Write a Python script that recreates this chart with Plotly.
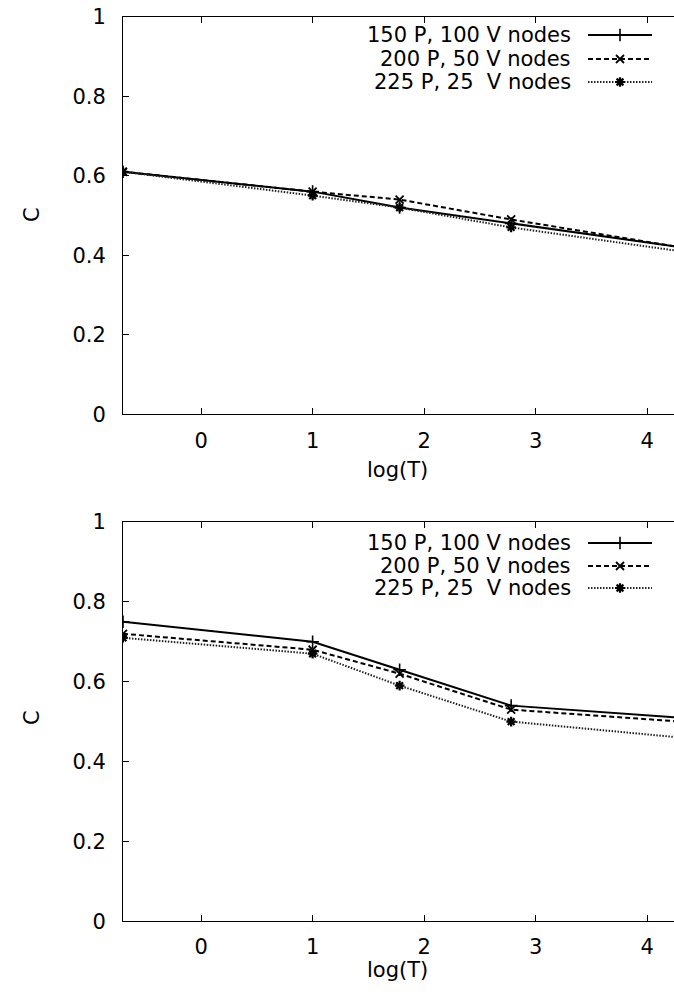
import plotly.graph_objects as go

# log(T) sample points shared by all runs
log_t = [-0.70, 1.0, 1.78, 2.78, 4.30]

# top panel: C vs log(T)
top_150p_100v = [0.61, 0.56, 0.52, 0.48, 0.42]
top_200p_50v = [0.61, 0.56, 0.54, 0.49, 0.42]
top_225p_25v = [0.61, 0.55, 0.52, 0.47, 0.41]

# bottom panel: C vs log(T)
bot_150p_100v = [0.75, 0.70, 0.63, 0.54, 0.51]
bot_200p_50v = [0.72, 0.68, 0.62, 0.53, 0.50]
bot_225p_25v = [0.71, 0.67, 0.59, 0.50, 0.46]

series_names = ["150 P, 100 V nodes", "200 P, 50 V nodes", "225 P, 25  V nodes"]
x_ticks = [0, 1, 2, 3, 4]
y_ticks = [0, 0.2, 0.4, 0.6, 0.8, 1]
y_tick_text = ["0", "0.2", "0.4", "0.6", "0.8", "1"]

W, H = 674, 997
LEFT = 123
FONT = "DejaVu Sans"
FS = 21

# panel extents in pixels (top edge, bottom edge)
TOP_PANEL = (16.7, 414.3)
BOT_PANEL = (522.0, 921.2)

styles = [
    dict(line=dict(color="black", width=2, dash="solid"),
         marker=dict(symbol="cross-thin", size=9, color="black",
                     line=dict(color="black", width=1.6))),
    dict(line=dict(color="black", width=2, dash="5px,3px"),
         marker=dict(symbol="x-thin", size=8, color="black",
                     line=dict(color="black", width=1.8))),
    dict(line=dict(color="#222222", width=2, dash="1.5px,1.5px"),
         marker=dict(symbol="asterisk", size=8, color="black",
                     line=dict(color="black", width=2.2))),
]

fig = go.Figure()

panels = [
    ("x", "y", [top_150p_100v, top_200p_50v, top_225p_25v]),
    ("x2", "y2", [bot_150p_100v, bot_200p_50v, bot_225p_25v]),
]
for xa, ya, sets in panels:
    for name, vals, st in zip(series_names, sets, styles):
        fig.add_trace(go.Scatter(
            x=log_t, y=vals, mode="lines+markers", name=name,
            xaxis=xa, yaxis=ya, showlegend=False,
            line=st["line"], marker=st["marker"], cliponaxis=True,
        ))

px = lambda v: (v - LEFT) / (W - LEFT)
py = lambda v: 1 - v / H

# key: label text on the left, line sample with marker on the right;
# samples live on pixel-scaled overlay axes laid over each panel
key_rows = [("x3", "y3", [35, 59, 82]), ("x4", "y4", [543, 566, 588])]
for xa, ya, rows in key_rows:
    for name, yy, st in zip(series_names, rows, styles):
        fig.add_trace(go.Scatter(
            x=[588, 652], y=[yy, yy], mode="lines", xaxis=xa, yaxis=ya,
            line=st["line"], showlegend=False, hoverinfo="skip",
        ))
        fig.add_trace(go.Scatter(
            x=[620], y=[yy], mode="markers", xaxis=xa, yaxis=ya,
            marker=st["marker"], showlegend=False, hoverinfo="skip",
        ))
        fig.add_annotation(
            x=px(573), y=py(yy), xref="paper", yref="paper",
            text=name, showarrow=False, xanchor="right", yanchor="middle",
            font=dict(family=FONT, size=FS, color="black"),
        )

# axis titles
for ty, cy in [(470, 215), (970, 718)]:
    fig.add_annotation(x=px(397), y=py(ty), xref="paper", yref="paper",
                       text="log(T)", showarrow=False, xanchor="center",
                       yanchor="middle",
                       font=dict(family=FONT, size=FS, color="black"))
    fig.add_annotation(x=px(32), y=py(cy), xref="paper", yref="paper",
                       text="C", showarrow=False, textangle=-90,
                       xanchor="center", yanchor="middle",
                       font=dict(family=FONT, size=FS, color="black"))

common_x = dict(
    range=[-0.70, 4.24], tickvals=x_ticks, ticks="inside", ticklen=6,
    tickwidth=1, tickcolor="black", showline=True, linecolor="black",
    linewidth=1, mirror="ticks", showgrid=False, zeroline=False,
    tickfont=dict(family=FONT, size=FS, color="black"),
    ticklabelstandoff=7, automargin=False,
)
common_y = dict(
    range=[0, 1], tickvals=y_ticks, ticktext=y_tick_text, ticks="inside",
    ticklen=6, tickwidth=1, tickcolor="black", showline=True,
    linecolor="black", linewidth=1, showgrid=False, zeroline=False,
    tickfont=dict(family=FONT, size=FS, color="black"),
    ticklabelstandoff=12, automargin=False,
)
hidden = dict(visible=False, fixedrange=True, showgrid=False, zeroline=False)

fig.update_layout(
    width=W, height=H,
    margin=dict(l=LEFT, r=0, t=0, b=0, pad=0),
    paper_bgcolor="white", plot_bgcolor="white",
    template="none",
    xaxis=dict(common_x, anchor="y"),
    yaxis=dict(common_y, domain=[py(TOP_PANEL[1]), py(TOP_PANEL[0])], anchor="x"),
    xaxis2=dict(common_x, anchor="y2"),
    yaxis2=dict(common_y, domain=[py(BOT_PANEL[1]), py(BOT_PANEL[0])], anchor="x2"),
    xaxis3=dict(hidden, range=[LEFT, W], anchor="y3", overlaying="x"),
    yaxis3=dict(hidden, range=[TOP_PANEL[1], TOP_PANEL[0]], anchor="x3",
                overlaying="y"),
    xaxis4=dict(hidden, range=[LEFT, W], anchor="y4", overlaying="x2"),
    yaxis4=dict(hidden, range=[BOT_PANEL[1], BOT_PANEL[0]], anchor="x4",
                overlaying="y2"),
    showlegend=False,
)

fig.write_html("out.html")
